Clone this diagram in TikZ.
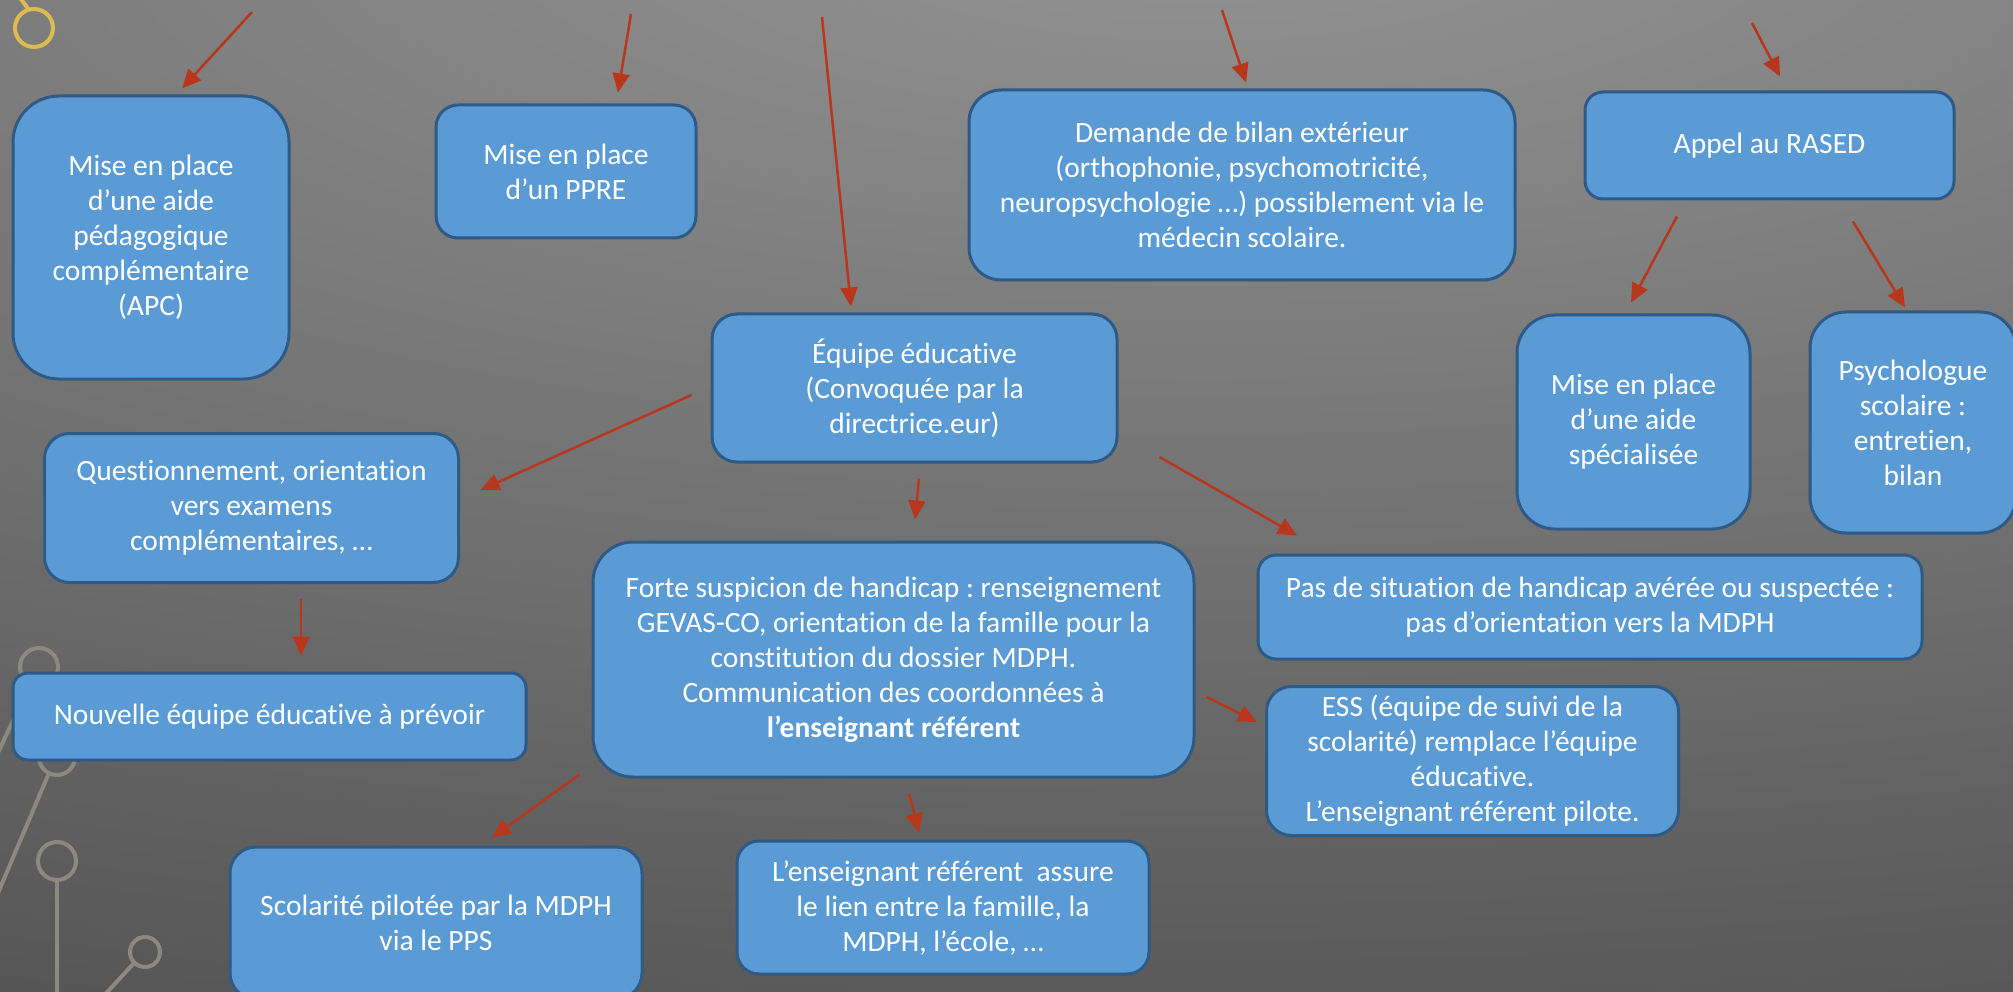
\documentclass[tikz,border=0pt]{standalone}
\usepackage{fontspec}
\setmainfont{Carlito}[Ligatures=NoCommon]
\usetikzlibrary{arrows.meta,calc}
\definecolor{boxfill}{HTML}{5B9BD5}
\definecolor{boxline}{HTML}{2E5A85}
\definecolor{arrred}{HTML}{B8371C}
\definecolor{bgin}{HTML}{949494}
\definecolor{bgout}{HTML}{242424}
\definecolor{deco}{HTML}{8E897F}
\definecolor{gold}{HTML}{DDBB4E}
\tikzset{
  box/.style={draw=boxline, line width=3pt, fill=boxfill, text=white, align=center,
    inner sep=0pt, font=\fontsize{29.5}{35}\selectfont},
  arr/.style={draw=arrred, line width=2.5pt, -{Triangle[length=19pt,width=17pt]}},
  ring/.style={line width=4pt},
}
\frenchspacing
\begin{document}
\begin{tikzpicture}[x=1pt,y=-1pt]
\useasboundingbox (0,0) rectangle (2013,992);
\clip (0,0) rectangle (2013,992);
% background
\fill[bgout] (0,0) rectangle (2013,992);
\shade[inner color=bgin, outer color=bgout] (1200,-100) ellipse [x radius=6000pt, y radius=2100pt];
% decorations
\draw[gold, ring] (34,28) circle [radius=19pt];
\draw[gold, ring] (18,-5) -- (29,10);
\draw[deco, ring] (39,667) circle [radius=19pt];
\draw[deco, ring] (30,684) -- (-10,770);
\draw[deco, ring] (57,757) circle [radius=18pt];
\draw[deco, ring] (49,773) -- (-5,900);
\draw[deco, ring] (57,861) circle [radius=19pt];
\draw[deco, ring] (57,880) -- (57,1000);
\draw[deco, ring] (145,952) circle [radius=15pt];
\draw[deco, ring] (134,963) -- (100,1000);
% boxes
\node[box, minimum width=276pt, minimum height=283pt, rounded corners=46pt] (apc) at (151,237.5)
  {Mise en place\\d’une aide\\pédagogique\\complémentaire\\(APC)};
\node[box, minimum width=260pt, minimum height=133pt, rounded corners=22pt] (ppre) at (566,171.5)
  {Mise en place\\d’un PPRE};
\node[box, minimum width=546pt, minimum height=190pt, rounded corners=32pt] (demande) at (1242,185)
  {Demande de bilan extérieur\\(orthophonie, psychomotricité,\\neuropsychologie …) possiblement via le\\médecin scolaire.};
\node[box, minimum width=369pt, minimum height=107pt, rounded corners=18pt] (rased) at (1769.5,145.5)
  {Appel au RASED};
\node[box, minimum width=233pt, minimum height=214pt, rounded corners=38pt] (aide) at (1633.5,422)
  {Mise en place\\d’une aide\\spécialisée};
\node[box, minimum width=206pt, minimum height=221pt, rounded corners=36pt] (psy) at (1913,422.5)
  {Psychologue\\scolaire :\\entretien,\\bilan};
\node[box, minimum width=405pt, minimum height=148pt, rounded corners=25pt] (equipe) at (914.5,388)
  {Équipe éducative\\(Convoquée par la\\directrice.eur)};
\node[box, minimum width=414pt, minimum height=149pt, rounded corners=25pt] (quest) at (251.5,508)
  {Questionnement, orientation\\vers examens\\complémentaires, …};
\node[box, minimum width=601pt, minimum height=235pt, rounded corners=40pt] (forte) at (893.5,659.5)
  {Forte suspicion de handicap : renseignement\\GEVAS-CO, orientation de la famille pour la\\constitution du dossier MDPH.\\Communication des coordonnées à\\\textbf{l’enseignant référent}};
\node[box, minimum width=664pt, minimum height=104pt, rounded corners=18pt] (pas) at (1590,607)
  {Pas de situation de handicap avérée ou suspectée :\\pas d’orientation vers la MDPH};
\node[box, minimum width=513pt, minimum height=87pt, rounded corners=15pt] (nouvelle) at (269.5,716.5)
  {Nouvelle équipe éducative à prévoir};
\node[box, minimum width=412pt, minimum height=149pt, rounded corners=25pt] (ess) at (1472.5,761)
  {ESS (équipe de suivi de la\\scolarité) remplace l’équipe\\éducative.\\L’enseignant référent pilote.};
\node[box, minimum width=412pt, minimum height=152pt, rounded corners=26pt] (scol) at (436,923)
  {Scolarité pilotée par la MDPH\\via le PPS};
\node[box, minimum width=412pt, minimum height=133pt, rounded corners=22pt] (lens) at (943,907.5)
  {L’enseignant référent\ \ assure\\le lien entre la famille, la\\MDPH, l’école, …};
% free starting points
\coordinate (s1) at (252,12);
\coordinate (s2) at (631,14);
\coordinate (s3) at (822,17);
\coordinate (s4) at (1222,10);
\coordinate (s5) at (1752,23);
% arrows
\draw[arr] (s1) -- ($(apc.north)+(31,-6)$);
\draw[arr] (s2) -- ($(ppre.north)+(52,-11)$);
\draw[arr] (s3) -- ($(equipe.north)+(-63.5,-6)$);
\draw[arr] (s4) -- ($(demande.north)+(4,-6)$);
\draw[arr] (s5) -- ($(rased.north)+(10.5,-14)$);
\draw[arr] ($(rased.south)+(-92.5,16)$) -- ($(aide.north)+(-2.5,-11)$);
\draw[arr] ($(rased.south)+(83.5,21)$) -- ($(psy.north)+(-8,-3)$);
\draw[arr] ($(equipe.west)+(-19,7)$) -- ($(quest.east)+(20.5,-18)$);
\draw[arr] ($(equipe.south)+(4.5,15)$) -- ($(forte.north)+(21.5,-21)$);
\draw[arr] ($(equipe.east)+(41,69)$) -- ($(pas.north)+(-293,-18)$);
\draw[arr] ($(quest.south)+(49.5,15)$) -- ($(nouvelle.north)+(31.5,-16)$);
\draw[arr] ($(forte.east)+(11,37.5)$) -- ($(ess.west)+(-8,-39)$);
\draw[arr] ($(forte.south west)+(-12,-4)$) -- ($(scol.north)+(56,-8)$);
\draw[arr] ($(forte.south)+(15.5,15)$) -- ($(lens.north)+(-24,-7)$);
\end{tikzpicture}
\end{document}
